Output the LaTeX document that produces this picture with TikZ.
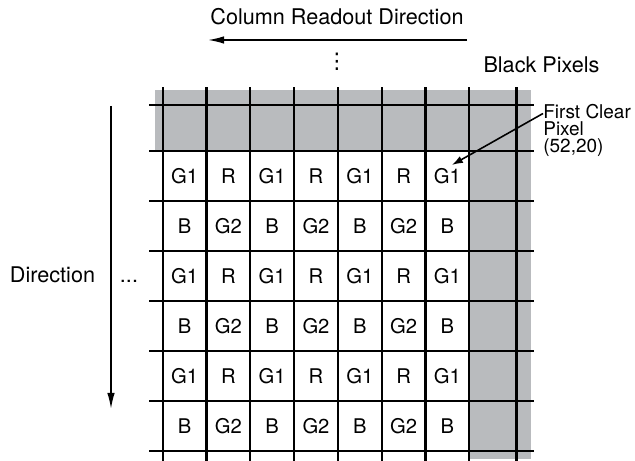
\documentclass[tikz,border=0pt]{standalone}
\usepackage{fontspec}
\setmainfont{TeX Gyre Heros}
\newfontfamily\symfont{DejaVu Sans}
\usetikzlibrary{arrows.meta}
\definecolor{blackpix}{RGB}{185,187,190}
\tikzset{pix/.style={inner sep=0pt,font=\fontsize{11.5}{13}\selectfont},
  lbl/.style={inner sep=0pt,font=\fontsize{12.3}{14}\selectfont},
  gridline/.style={line width=1.15pt},
  readout/.style={line width=0.9pt,-{Latex[length=3.2mm,width=1.5mm]}},
  pointer/.style={line width=0.9pt,-{Latex[length=2.2mm,width=1.5mm]}}}
\newcommand{\pix}[4]{\node[pix] (#1) at (#2,#3) {#4};}
\newcommand{\rowGR}[2]{\pix{#1a}{3.692}{#2}{G1}\pix{#1b}{4.568}{#2}{R}\pix{#1c}{5.444}{#2}{G1}\pix{#1d}{6.320}{#2}{R}\pix{#1e}{7.196}{#2}{G1}\pix{#1f}{8.072}{#2}{R}\pix{#1g}{8.948}{#2}{G1}}
\newcommand{\rowBG}[2]{\pix{#1a}{3.692}{#2}{B}\pix{#1b}{4.568}{#2}{G2}\pix{#1c}{5.444}{#2}{B}\pix{#1d}{6.320}{#2}{G2}\pix{#1e}{7.196}{#2}{B}\pix{#1f}{8.072}{#2}{G2}\pix{#1g}{8.948}{#2}{B}}
\newcommand{\gridH}[1]{\draw[gridline] (2.98,#1) -- (10.68,#1);}
\newcommand{\gridV}[1]{\draw[gridline] (#1,0) -- (#1,7.48);}

\begin{document}
\begin{tikzpicture}
    \useasboundingbox (0,0) rectangle (12.7,9.22);
    % black (masked) pixels
    \fill[blackpix] (3.10,7.42) rectangle (10.62,6.2);
    \fill[blackpix] (9.386,6.2) rectangle (10.62,0.04);
    \gridH{7.11}\gridH{6.2}\gridH{5.2}\gridH{4.2}
    \gridH{3.2}\gridH{2.2}\gridH{1.2}\gridH{0.2}
    \gridV{3.254}\gridV{4.13}\gridV{5.006}\gridV{5.882}\gridV{6.758}
    \gridV{7.634}\gridV{8.51}\gridV{9.386}\gridV{10.33}
    \rowGR{r1}{5.7} \rowBG{r2}{4.7}
    \rowGR{r3}{3.7} \rowBG{r4}{2.7}
    \rowGR{r5}{1.7} \rowBG{r6}{0.7}

    \node[lbl] (title) at (6.74,8.88) {Column Readout Direction};
    \coordinate (colR) at (9.34,8.42); \coordinate (colL) at (4.16,8.42);
    \draw[readout] (colR) -- (colL);
    \node[lbl] (vdots) at (6.74,7.98) {\symfont ⋮};
    \node[lbl] (black) at (10.83,7.92) {Black Pixels};
    \node[inner sep=0pt,anchor=north west,align=left,font=\fontsize{10.8}{9.7}\selectfont] (fcp) at (10.86,7.15) {First Clear\\Pixel\\(52,20)};
    \draw[pointer] ([yshift=-0.2cm]fcp.north west) -- ([shift={(0.09,0.22)}]r1g.center);

    \node[lbl] (dir) at (1.05,3.72) {Direction};
    \node[lbl] (hdots) at (2.58,3.6) {...};
    \coordinate (rowT) at (2.22,7.1); \coordinate (rowB) at (2.22,1.04);
    \draw[readout] (rowT) -- (rowB);
\end{tikzpicture}
\end{document}
